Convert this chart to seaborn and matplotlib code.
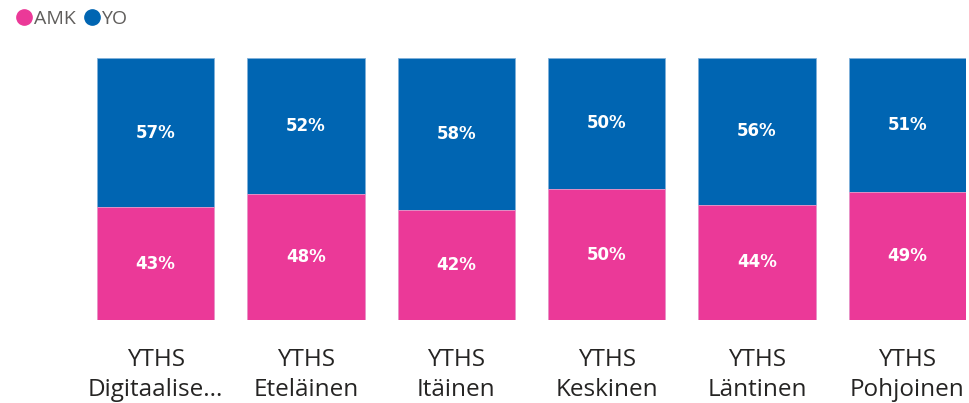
import matplotlib
matplotlib.use("Agg")
import matplotlib.pyplot as plt
import seaborn as sns
import pandas as pd
from matplotlib.lines import Line2D

# data
regions = ["YTHS\nDigitaalise...", "YTHS\nEteläinen", "YTHS\nItäinen",
           "YTHS\nKeskinen", "YTHS\nLäntinen", "YTHS\nPohjoinen"]
amk = [43, 48, 42, 50, 44, 49]
yo = [57, 52, 58, 50, 56, 51]

pink = "#EB3998"
blue = "#0065B2"

sns.set_theme(style="white")
plt.rcParams['font.family'] = ['Open Sans', 'DejaVu Sans']

df = pd.DataFrame({'region': regions, 'AMK': amk, 'YO': yo})
df['total'] = df['AMK'] + df['YO']

fig = plt.figure(figsize=(9.69, 4.03), dpi=100)
ax = fig.add_axes([97 / 969, 1 - 320 / 403, (966 - 97) / 969, 262 / 403])

# full bar (YO on top) then AMK drawn over it
sns.barplot(data=df, x='region', y='total', color=blue, width=0.78,
            saturation=1, ax=ax, edgecolor='#7FB0DA', linewidth=0.6)
sns.barplot(data=df, x='region', y='AMK', color=pink, width=0.78,
            saturation=1, ax=ax, edgecolor='#F39BCB', linewidth=0.6)

# labels in the middle of each segment
for i, (a, b) in enumerate(zip(amk, yo)):
    ax.text(i, a / 2, f"{a}%", ha='center', va='center', color='white',
            fontsize=12, fontweight='bold', family=['DejaVu Sans'])
    ax.text(i, a + b / 2, f"{b}%", ha='center', va='center', color='white',
            fontsize=12, fontweight='bold', family=['DejaVu Sans'])

ax.set_xlim(-0.39, 5.39)
ax.set_ylim(0, 100)
ax.set_xlabel('')
ax.set_ylabel('')
ax.set_yticks([])
ax.tick_params(axis='x', length=0, pad=20.5, labelsize=17.5, labelcolor='#252423')
for lbl in ax.get_xticklabels():
    lbl.set_linespacing(1.3)
sns.despine(ax=ax, left=True, bottom=True)

handles = [Line2D([], [], marker='o', linestyle='', markersize=11, color=pink),
           Line2D([], [], marker='o', linestyle='', markersize=11, color=blue)]
fig.legend(handles, ['AMK', 'YO'], loc='upper left', bbox_to_anchor=(16 / 969, 1 - 10 / 403),
           ncol=2, frameon=False, handletextpad=0.1, columnspacing=0.45,
           borderaxespad=0, borderpad=0,
           fontsize=14, labelcolor='#605E5C', handlelength=0.8)

fig.savefig('out.png', dpi=100)
